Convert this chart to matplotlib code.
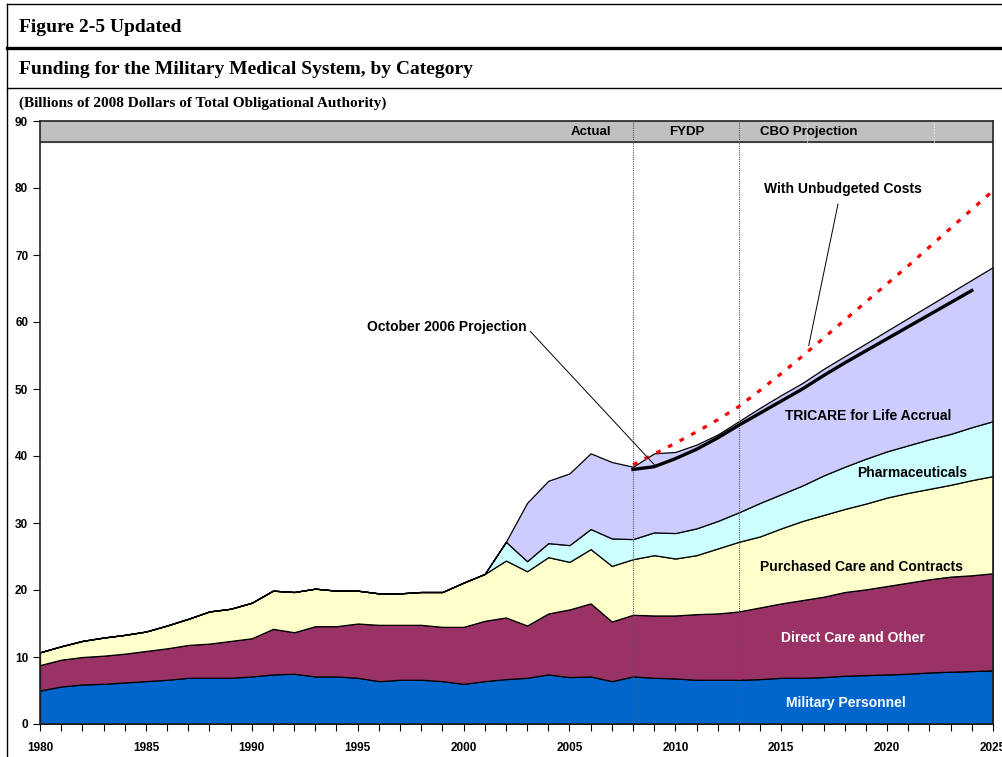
import numpy as np
import matplotlib
matplotlib.use('Agg')
import matplotlib.pyplot as plt
from matplotlib.lines import Line2D
from matplotlib.ticker import MultipleLocator

# data (billions of 2008 dollars)
years = np.arange(1980, 2026)
military = [5.0, 5.6, 5.9, 6.0, 6.2, 6.4, 6.6, 6.9, 6.9, 6.9,
            7.1, 7.4, 7.5, 7.1, 7.1, 6.9, 6.4, 6.6, 6.6, 6.4,
            6.0, 6.4, 6.7, 6.9, 7.4, 7.0, 7.1, 6.4, 7.1, 6.9,
            6.8, 6.6, 6.6, 6.6, 6.7, 6.9, 6.9, 7.0, 7.2, 7.3,
            7.4, 7.5, 7.7, 7.8, 7.9, 8.0]
direct_care = [3.8, 4.0, 4.1, 4.2, 4.3, 4.5, 4.7, 4.9, 5.1, 5.5,
               5.7, 6.8, 6.2, 7.5, 7.5, 8.1, 8.4, 8.2, 8.2, 8.1,
               8.5, 9.0, 9.2, 7.8, 9.1, 10.1, 10.9, 8.9, 9.2, 9.3,
               9.4, 9.8, 9.9, 10.2, 10.7, 11.1, 11.6, 12.0, 12.5, 12.8,
               13.2, 13.6, 13.9, 14.2, 14.3, 14.5]
purchased = [1.9, 2.0, 2.4, 2.7, 2.8, 2.9, 3.4, 3.9, 4.8, 4.8,
             5.3, 5.7, 6.0, 5.6, 5.3, 4.9, 4.7, 4.7, 4.9, 5.2,
             6.6, 7.0, 8.5, 8.1, 8.4, 7.1, 8.1, 8.3, 8.3, 9.0,
             8.5, 8.8, 9.7, 10.4, 10.6, 11.2, 11.8, 12.2, 12.4, 12.8,
             13.2, 13.4, 13.5, 13.7, 14.2, 14.5]
pharma = [0] * 22 + [2.8, 1.5, 2.1, 2.5, 3.0, 4.1, 3.0, 3.4, 3.8, 4.0,
                     4.1, 4.4, 5.0, 5.1, 5.3, 5.9, 6.3, 6.7, 6.9, 7.1,
                     7.4, 7.6, 7.9, 8.2]
tfl = [0] * 23 + [8.7, 9.3, 10.7, 11.3, 11.4, 10.8, 11.8, 12.1, 12.5, 12.9,
                  13.6, 14.2, 14.8, 15.3, 15.9, 16.5, 17.2, 18.0, 19.0, 20.0,
                  21.1, 22.0, 23.0]

oct06_years = np.arange(2008, 2025)
oct06 = [38.0, 38.4, 39.6, 41.0, 42.7, 44.6, 46.4, 48.2, 50.0, 52.0,
         53.9, 55.7, 57.5, 59.3, 61.1, 62.9, 64.7]
unbud_years = np.arange(2008, 2026)
unbudgeted = [38.7, 40.3, 41.9, 43.6, 45.4, 47.4, 49.8, 52.3, 54.9, 57.6,
              60.3, 63.0, 65.7, 68.4, 71.2, 74.0, 76.8, 79.6]

colors = ['#0066CC', '#993366', '#FFFFCC', '#CCFFFF', '#CCCCFF']

W, H = 1003, 757
fig = plt.figure(figsize=(W / 100, H / 100), dpi=100, facecolor='white')

def fx(x):
    return x / W

def fy(y):
    return 1 - y / H

# header frame and titles
fig.add_artist(Line2D([fx(7), 1], [fy(4), fy(4)], color='black', lw=1))
fig.add_artist(Line2D([fx(7), fx(7)], [fy(4), 0], color='black', lw=1))
fig.add_artist(Line2D([fx(7), 1], [fy(47.5), fy(47.5)], color='black', lw=2.4))
fig.add_artist(Line2D([fx(7), 1], [fy(88), fy(88)], color='black', lw=1))
serif = 'Liberation Serif'
fig.text(fx(19), fy(27), 'Figure 2-5 Updated', family=serif, weight='bold',
         fontsize=14, va='center')
fig.text(fx(19), fy(69), 'Funding for the Military Medical System, by Category',
         family=serif, weight='bold', fontsize=14, va='center')
fig.text(fx(19), fy(103), '(Billions of 2008 Dollars of Total Obligational Authority)',
         family=serif, weight='bold', fontsize=11, va='center')

ax = fig.add_axes([fx(40), fy(724), fx(993) - fx(40), fy(121) - fy(724)])
ax.stackplot(years, military, direct_care, purchased, pharma, tfl,
             colors=colors, edgecolor='black', linewidth=0.9, zorder=2)

ax.plot(oct06_years, oct06, color='black', lw=2.4, zorder=4)
ax.plot(unbud_years, unbudgeted, color='red', lw=2.3, dashes=(1.5, 2.6), zorder=4)

# header band and period separators
ax.axhspan(86.8, 90, color='#C0C0C0', zorder=3)
ax.axhline(86.8, color='#333333', lw=1.3, zorder=3)
for xv in [2016.2, 2022.2]:
    ax.plot([xv, xv], [86.8, 90], color='white', lw=0.8, ls=':', zorder=3)
for xv in [2008, 2013]:
    ax.axvline(xv, color='#555555', lw=0.8, ls=(0, (1, 1)), zorder=3)

sans = 'Liberation Sans'
ax.text(2006.0, 88.4, 'Actual', family=sans, weight='bold', fontsize=9.5,
        ha='center', va='center', zorder=5)
ax.text(2010.55, 88.4, 'FYDP', family=sans, weight='bold', fontsize=9.5,
        ha='center', va='center', zorder=5)
ax.text(2016.3, 88.4, 'CBO Projection', family=sans, weight='bold', fontsize=9.5,
        ha='center', va='center', zorder=5)

# series labels
lab = dict(family=sans, weight='bold', fontsize=10, ha='center', va='center', zorder=5)
ax.text(2018.05, 3.1, 'Military Personnel', color='white', **lab)
ax.text(2018.4, 12.8, 'Direct Care and Other', color='white', **lab)
ax.text(2018.8, 23.4, 'Purchased Care and Contracts', color='black', **lab)
ax.text(2021.2, 37.5, 'Pharmaceuticals', color='black', **lab)
ax.text(2019.1, 46.0, 'TRICARE for Life Accrual', color='black', **lab)

# callouts
ax.text(2003.0, 59.3, 'October 2006 Projection', family=sans, weight='bold',
        fontsize=10, ha='right', va='center', zorder=5)
ax.plot([2003.15, 2009.08], [58.6, 38.45], color='black', lw=0.7, zorder=5)
ax.text(2017.9, 79.8, 'With Unbudgeted Costs', family=sans, weight='bold',
        fontsize=10, ha='center', va='center', zorder=5)
ax.plot([2017.68, 2016.3], [77.6, 56.5], color='black', lw=0.7, zorder=5)

# axes
ax.set_xlim(1980, 2025)
ax.set_ylim(0, 90)
ax.xaxis.set_major_locator(MultipleLocator(5))
ax.xaxis.set_minor_locator(MultipleLocator(1))
ax.yaxis.set_major_locator(MultipleLocator(10))
ax.tick_params(axis='both', which='both', direction='out', length=5, width=0.8,
               labelsize=8.5)
ax.tick_params(axis='x', pad=8)
for lbl in ax.get_xticklabels() + ax.get_yticklabels():
    lbl.set_fontweight('bold')
    lbl.set_family(sans)
for sp in ax.spines.values():
    sp.set_linewidth(1.2)
    sp.set_color('#222222')
    sp.set_zorder(6)

fig.savefig('out.png', dpi=100, facecolor='white')
